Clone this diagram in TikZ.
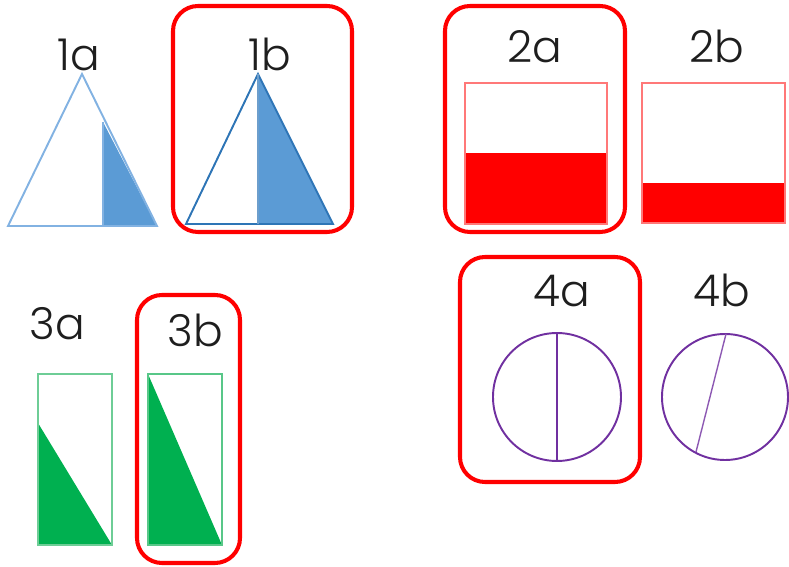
\documentclass[tikz,border=0pt]{standalone}
\usepackage{fontspec}
\IfFontExistsTF{Poppins Light}{\setmainfont{Poppins Light}}{\setmainfont{Poppins}}
\usepackage{tikz}
\usetikzlibrary{positioning, calc}
\definecolor{myblue}{RGB}{91, 155, 213}
\definecolor{mylightblue}{RGB}{130, 178, 226}
\definecolor{mydarkblue}{RGB}{46, 117, 182}
\definecolor{mylightred}{RGB}{255, 120, 120}
\definecolor{mygreen}{RGB}{0, 176, 80}
\definecolor{mylightgreen}{RGB}{110, 205, 150}
\definecolor{mypurple}{RGB}{112, 48, 160}
\definecolor{mytext}{RGB}{30, 30, 30}

\tikzset{
    frame/.style={draw=red, line width=2.3pt, rounded corners=0.5cm},
    tag/.style={anchor=base, inner sep=0pt, text=mytext, font=\fontsize{25}{25}\selectfont},
    shapeline/.style={line width=1.1pt}
}

\begin{document}
\begin{tikzpicture}[x=0.02cm, y=-0.02cm]
                \useasboundingbox (0,0) rectangle (789,567);
                % Frames
                \draw[frame] (173,6) rectangle (352,232);
                \draw[frame] (445,6) rectangle (625,232);
                \draw[frame] (137,295) rectangle (240,563);
                \draw[frame] (460,257) rectangle (640,482);
                % Labels
                \node[tag] (lab1a) at (79,71) {1a};
                \node[tag] (lab1b) at (270,71) {1b};
                \node[tag] (lab2a) at (535,63) {2a};
                \node[tag] (lab2b) at (717,63) {2b};
                \node[tag] (lab3a) at (57,340) {3a};
                \node[tag] (lab3b) at (195,347) {3b};
                \node[tag] (lab4a) at (562,307) {4a};
                \node[tag] (lab4b) at (722,307) {4b};
                % Triangle 1a
                \fill[myblue] (103,122) -- (157,226) -- (103,226) -- cycle;
                \draw[shapeline, draw=mylightblue] (82,74) -- (157,226) -- (8,226) -- cycle;
                \draw[shapeline, draw=mylightblue] (103,122) -- (103,226);
                % Triangle 1b
                \fill[myblue] (258,74) -- (333,224) -- (258,224) -- cycle;
                \draw[shapeline, draw=mydarkblue] (258,74) -- (333,224) -- (186,224) -- cycle;
                \draw[shapeline, draw=mydarkblue!70] (258,74) -- (258,224);
                % Squares 2a and 2b
                \fill[red] (465,153) rectangle (607,224);
                \draw[shapeline, draw=mylightred] (465,83) rectangle (607,224);
                \fill[red] (642,183) rectangle (785,223);
                \draw[shapeline, draw=mylightred] (642,83) rectangle (785,223);
                % Bars 3a and 3b
                \fill[mygreen] (38,423) -- (112,545) -- (38,545) -- cycle;
                \draw[shapeline, draw=mylightgreen] (38,374) rectangle (112,545);
                \fill[mygreen] (148,374) -- (222,545) -- (148,545) -- cycle;
                \draw[shapeline, draw=mylightgreen!80!mygreen] (148,374) rectangle (222,545);
                % Circles 4a and 4b
                \draw[shapeline, draw=mypurple] (557,397) circle[radius=64];
                \draw[line width=0.7pt, draw=mypurple] (557,333) -- (557,461);
                \draw[shapeline, draw=mypurple] (725,397) circle[radius=63];
                \draw[line width=0.8pt, draw=mypurple!80] (726,334) -- (696,452);
            \end{tikzpicture}
\end{document}
